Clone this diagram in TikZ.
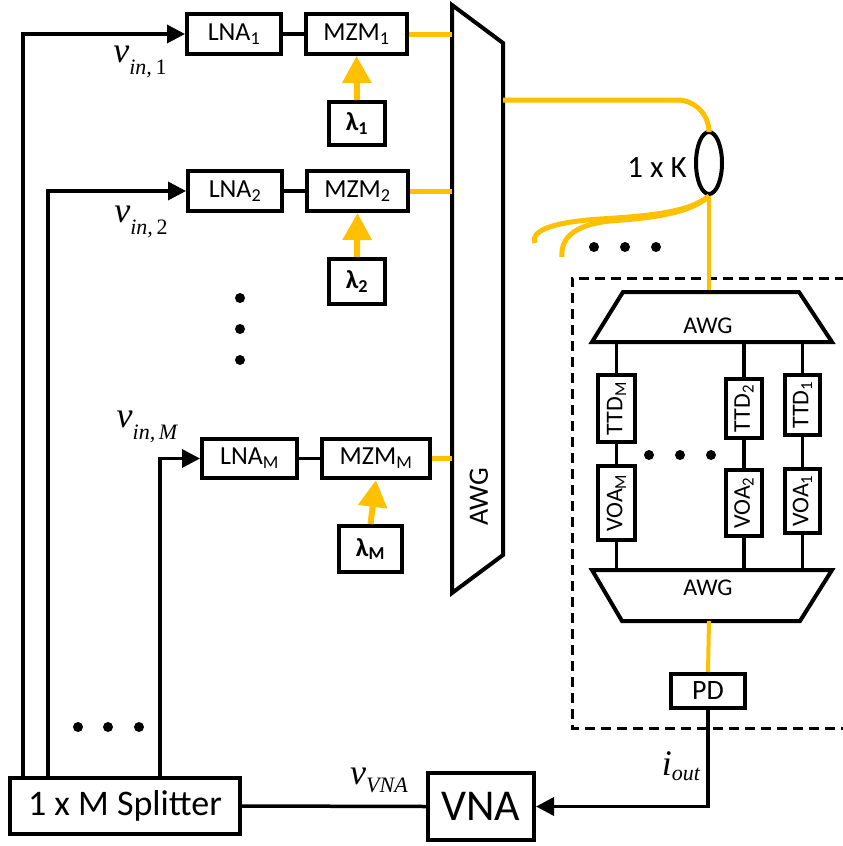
\documentclass[tikz,border=0pt]{standalone}
\usepackage{fontspec}
\usepackage{graphicx}
\setmainfont{Carlito}
\newfontfamily\tnr{Liberation Serif}
\usetikzlibrary{arrows.meta,shapes.geometric}
\definecolor{fib}{HTML}{FFC000}
\newcommand\fsz[1]{\fontsize{#1}{#1}\selectfont}
\newcommand\sglab[3]{{\tnr\itshape\fsz{36}#1\raisebox{-#3pt}{\fsz{22}#2}}}
\begin{document}
\begin{tikzpicture}[x=1pt,y=-1pt,
  box/.style={draw,line width=4pt,inner sep=0pt,font=\fsz{26}},
  vbox/.style={draw,line width=4pt,inner sep=0pt,font=\fsz{24}},
  ln/.style={line width=3.5pt},
  arr/.style={line width=3.5pt,-{Triangle[length=18pt,width=18pt]}},
  fiber/.style={fib,line width=5pt},
  farr/.style={fib,line width=6pt,-{Triangle[length=27pt,width=28pt]}},
  dot/.style={circle,fill,inner sep=0pt,minimum size=10pt},
  shape4/.style={line width=4pt,line join=miter}]
\useasboundingbox (0,0) rectangle (843,846);

% left chain nodes
\node[box,minimum width=94pt,minimum height=40pt] (lna1) at (234,34) {LNA\textsubscript{1}};
\node[box,minimum width=101pt,minimum height=40pt] (mzm1) at (356.5,34) {MZM\textsubscript{1}};
\node[box,minimum width=56pt,minimum height=43pt] (lam1) at (357,123.5) {\bfseries λ\textsubscript{1}};
\node[box,minimum width=94pt,minimum height=40pt] (lna2) at (235,191) {LNA\textsubscript{2}};
\node[box,minimum width=101pt,minimum height=40pt] (mzm2) at (357.5,191) {MZM\textsubscript{2}};
\node[box,minimum width=56pt,minimum height=45pt] (lam2) at (357,281.5) {\bfseries λ\textsubscript{2}};
\node[box,minimum width=95pt,minimum height=39pt] (lnaM) at (249.5,458.5) {LNA\textsubscript{M}};
\node[box,minimum width=108pt,minimum height=39pt] (mzmM) at (376,458.5) {MZM\textsubscript{M}};
\node[box,minimum width=63pt,minimum height=46pt] (lamM) at (370.5,549) {\bfseries λ\textsubscript{M}};

\node[box,font=\fsz{36},minimum width=230pt,minimum height=56pt] (spl) at (125,806) {1 x M Splitter};
\node[box,font=\fsz{44},minimum width=106pt,minimum height=67pt] (vna) at (481,806.5) {VNA};
\node[box,font=\fsz{28},minimum width=74pt,minimum height=34pt] (pd) at (708,691) {PD};

% splitter branches
\coordinate (s1) at (23,0);
\coordinate (s2) at (48,0);
\coordinate (sM) at (160,0);
\draw[arr] (s1 |- spl.north) |- (lna1.west);
\draw[arr] (s2 |- spl.north) |- (lna2.west);
\draw[arr] (sM |- spl.north) |- (lnaM.west);
\draw[ln] (lna1.east) -- (mzm1.west);
\draw[ln] (lna2.east) -- (mzm2.west);
\draw[ln] (lnaM.east) -- (mzmM.west);
\draw[farr] (lam1.north) -- (mzm1.south);
\draw[farr] (lam2.north) -- (mzm2.south);
\draw[farr] (lamM.north) -- (mzmM.south);

\node (vin1) at (140,62) {\sglab{v}{in,\,\upshape 1}{12}};
\node (vin2) at (141,222) {\sglab{v}{in,\,\upshape 2}{12}};
\node (vinM) at (147,427) {\sglab{v}{in,\,M}{12}};

\node[dot] (d1) at (240,298) {};
\node[dot] (d2) at (240,329) {};
\node[dot] (d3) at (240,360) {};
\node[dot] (d4) at (78,727) {};
\node[dot] (d5) at (108,727) {};
\node[dot] (d6) at (139,727) {};

% big AWG
\draw[shape4] (452,5) -- (503,43) -- (503,555) -- (452,593) -- cycle;
\node[font=\fsz{28},rotate=90] (awgbig) at (479,497) {AWG};
\coordinate (awgL) at (452,0);
\draw[fiber] (mzm1.east) -- (mzm1.east -| awgL);
\draw[fiber] (mzm2.east) -- (mzm2.east -| awgL);
\draw[fiber] (mzmM.east) -- (mzmM.east -| awgL);

% 1 x K coupler
\node[draw,ellipse,line width=4pt,minimum width=26pt,minimum height=62pt,inner sep=0pt] (ell) at (709,163) {};
\node[font=\fsz{31}] (kl) at (657,168) {1 x K};
\coordinate (fo) at (503,100);
\draw[fiber,rounded corners=32pt] (fo) -| (ell.north);
\draw[fiber] (ell.south) .. controls (690,212) and (650,216) .. (600,219) .. controls (555,222) and (530,230) .. (535,243);
\draw[fiber] (ell.south) .. controls (690,214) and (650,218) .. (610,221) .. controls (580,224) and (560,235) .. (562,257);
\node[dot] (d7) at (594,247) {};
\node[dot] (d8) at (625,247) {};
\node[dot] (d9) at (656,247) {};

% dashed box
\draw[line width=3pt,dash pattern=on 10pt off 6pt] (845,278) -- (572,278) -- (572,728) -- (845,728);

% inner AWGs
\coordinate (tin) at (709,292);
\coordinate (tb) at (0,342);
\coordinate (bt) at (0,570);
\coordinate (bout) at (709,621);
\draw[fiber,line width=4pt] (ell.south) -- (tin);
\draw[shape4] (623,292) -- (799,292) -- (832,342) -- (592,342) -- cycle;
\node[font=\fsz{24}] (awgt) at (708,326) {AWG};
\draw[shape4] (592,570) -- (832,570) -- (800,621) -- (622,621) -- cycle;
\node[font=\fsz{24}] (awgb) at (708,588) {AWG};
\draw[fiber,line width=4pt] (bout) -- (pd.north);

\node[vbox,minimum width=37pt,minimum height=67pt] (ttdM) at (616.5,408.5) {\rotatebox{90}{TTD\textsubscript{M}}};
\node[vbox,minimum width=37pt,minimum height=74pt] (voaM) at (616.5,503) {\rotatebox{90}{VOA\textsubscript{M}}};
\node[vbox,minimum width=36pt,minimum height=59pt] (ttd2) at (744,408.5) {\rotatebox{90}{TTD\textsubscript{2}}};
\node[vbox,minimum width=36pt,minimum height=66pt] (voa2) at (744,503) {\rotatebox{90}{VOA\textsubscript{2}}};
\node[vbox,minimum width=35pt,minimum height=60pt] (ttd1) at (802.5,405) {\rotatebox{90}{TTD\textsubscript{1}}};
\node[vbox,minimum width=35pt,minimum height=64pt] (voa1) at (802.5,501) {\rotatebox{90}{VOA\textsubscript{1}}};
\foreach \t/\v in {ttdM/voaM,ttd2/voa2,ttd1/voa1}{
  \draw[ln] (\t.north |- tb) -- (\t.north);
  \draw[ln] (\t.south) -- (\v.north);
  \draw[ln] (\v.south) -- (\v.south |- bt);
}
\node[dot] (d10) at (649,455) {};
\node[dot] (d11) at (680,455) {};
\node[dot] (d12) at (711,455) {};

% bottom signal path
\draw[ln] (spl.east) -- (vna.west);
\draw[arr] (pd.south) |- (vna.east);
\node (vvna) at (379,780) {\sglab{v}{VNA}{8}};
\node (iout) at (681,766) {\sglab{i}{out}{5}};
\end{tikzpicture}
\end{document}
